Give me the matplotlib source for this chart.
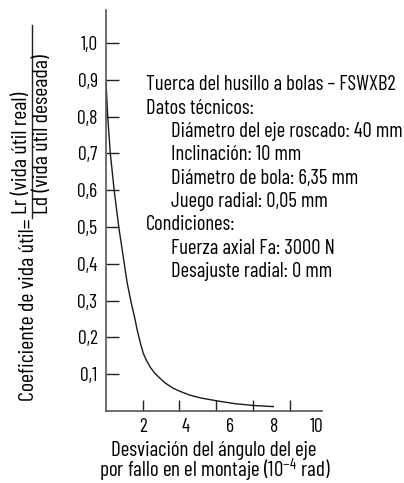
import matplotlib
matplotlib.use("Agg")
import matplotlib.pyplot as plt
from matplotlib.lines import Line2D

plt.rcParams['font.family'] = ['Barlow Condensed', 'DejaVu Sans']
plt.rcParams['mathtext.fontset'] = 'custom'
plt.rcParams['mathtext.rm'] = 'Barlow Condensed'
plt.rcParams['mathtext.default'] = 'regular'

# curva
desviacion = [0.0, 0.10, 0.24, 0.45, 0.70, 1.0, 1.15, 1.35, 1.58, 1.68, 1.80, 1.90,
              2.03, 2.20, 2.40, 2.65, 2.94, 3.25, 3.66, 4.0, 4.57, 5.2, 5.98, 7.0,
              8.0, 9.1]
coeficiente = [0.90, 0.80, 0.70, 0.60, 0.50, 0.40, 0.35, 0.30, 0.25, 0.225, 0.20,
               0.18, 0.157, 0.138, 0.120, 0.103, 0.089, 0.075, 0.062, 0.054, 0.043,
               0.035, 0.028, 0.020, 0.015, 0.012]

y_ticks = [0.1, 0.2, 0.3, 0.4, 0.5, 0.6, 0.7, 0.8, 0.9, 1.0]
y_labels = ["0,1", "0,2", "0,3", "0,4", "0,5", "0,6", "0,7", "0,8", "0,9", "1,0"]
x_ticks = [2, 4, 6, 8, 10]
x_labels = ["2", "4", "6", "8", "10"]
# las etiquetas del eje x no caen justo sobre las marcas en el original
x_label_pos = [2.0, 4.34, 6.75, 9.15, 11.46]

info = [
    ("Tuerca del husillo a bolas \u2013 FSWXB2", 0),
    ("Datos técnicos:", 0),
    ("Diámetro del eje roscado: 40 mm", 1),
    ("Inclinación: 10 mm", 1),
    ("Diámetro de bola: 6,35 mm", 1),
    ("Juego radial: 0,05 mm", 1),
    ("Condiciones:", 0),
    ("Fuerza axial Fa: 3000 N", 1),
    ("Desajuste radial: 0 mm", 1),
]
xlabel_lineas = ["Desviación del ángulo del eje",
                 "por fallo en el montaje (10$^{-4}$ rad)"]

W, H = 404, 483
fig = plt.figure(figsize=(W / 100, H / 100), dpi=100)
rend = fig.canvas.get_renderer()


def px(x, y):
    # píxeles desde arriba-izquierda -> coordenadas de figura
    return x / W, 1 - y / H


def ajustar(t, largo):
    # escala el tamaño de letra para que el texto mida 'largo' píxeles de ancho
    ancho = t.get_window_extent(rend).width
    t.set_fontsize(t.get_fontsize() * largo / ancho)
    return t.get_fontsize()


ax = fig.add_axes([105.9 / W, 1 - 411 / H, (321.7 - 105.9) / W, (411 - 10) / H])
ax.plot(desviacion, coeficiente, color="#1a1a1a", lw=1.0)

ax.set_xlim(0, 11.73)
ax.set_ylim(0, 1.09)
for s in ["top", "right"]:
    ax.spines[s].set_visible(False)
for s in ["left", "bottom"]:
    ax.spines[s].set_linewidth(1.2)
    ax.spines[s].set_color("#555555")

ax.xaxis.remove_overlapping_locs = False
ax.set_yticks(y_ticks, y_labels)
ax.set_xticks(x_ticks, [""] * len(x_ticks))
ax.set_xticks(x_label_pos, x_labels, minor=True)
ax.tick_params(axis="y", direction="in", length=9.4, width=1.0, color="#222222",
               pad=6, labelsize=14)
ax.tick_params(axis="x", which="major", direction="in", length=8, width=1.0,
               color="#222222")
ax.tick_params(axis="x", which="minor", length=0, pad=5, labelsize=14)

# título del eje x en dos líneas
t2 = fig.text(*px(215, 477.5), xlabel_lineas[1], fontsize=14, ha="center", va="baseline")
fs = ajustar(t2, 232)
fig.text(*px(214, 455.5), xlabel_lineas[0], fontsize=fs, ha="center", va="baseline")

# bloque de texto
t0 = fig.text(*px(146, 90.5), info[0][0], fontsize=14, ha="left", va="baseline")
fs = ajustar(t0, 250)
for i, (txt, ind) in enumerate(info[1:], start=1):
    fig.text(*px(146 + 24.7 * ind, 90.5 + 23.3 * i), txt,
             fontsize=fs, ha="left", va="baseline")

# etiqueta del eje y con fracción
fy = fs * 1.07
fig.text(*px(28, 401), "Coeficiente de vida útil=", rotation=90,
         fontsize=fy, ha="center", va="bottom")
fig.text(*px(22, 214), "Lr (vida útil real)", rotation=90,
         fontsize=fy, ha="center", va="bottom")
fig.text(*px(43, 214), "Ld (vida útil deseada)", rotation=90,
         fontsize=fy, ha="center", va="bottom")
fig.add_artist(Line2D([31.5 / W, 31.5 / W], [1 - 25 / H, 1 - 218 / H],
                      transform=fig.transFigure, color="#222222", lw=1.0))

fig.savefig("out.png", dpi=100)
